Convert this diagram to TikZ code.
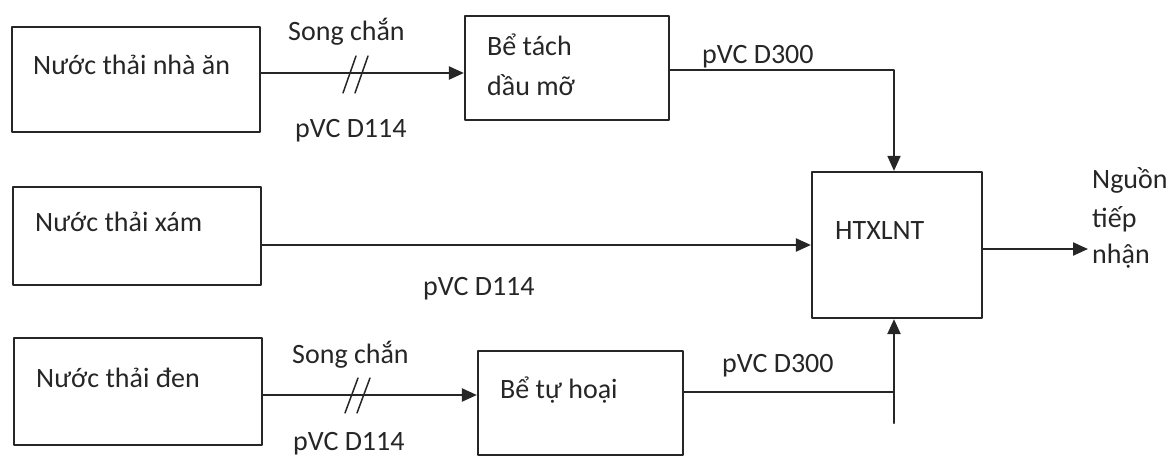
\documentclass[tikz,border=0pt]{standalone}
\usepackage{fontspec}
\setmainfont{Carlito}
\usetikzlibrary{arrows.meta,calc}
\definecolor{ink}{HTML}{262626}
\tikzset{
	hop/.style={draw=ink, line width=2.2pt, inner sep=0pt},
	chu/.style={text=ink, inner sep=0pt, anchor=base west},
	ong/.style={draw=ink, line width=2.2pt},
	mui/.style={-{Triangle[length=15pt,width=13pt]}},
}
\begin{document}
\begin{tikzpicture}[x=1pt,y=-1pt, font=\fontsize{28}{34}\selectfont, line join=round, line cap=round]
	\useasboundingbox (0,0) rectangle (1170,458);
	% cac be va nguon thai
	\node[hop, minimum width=248pt, minimum height=105pt] (an) at (136,79.5) {};
	\node[hop, minimum width=248pt, minimum height=98pt] (xam) at (137,236) {};
	\node[hop, minimum width=248pt, minimum height=107pt] (den) at (138,391.5) {};
	\node[hop, minimum width=204pt, minimum height=104pt] (tach) at (567,68) {};
	\node[hop, minimum width=205pt, minimum height=104pt] (tuhoai) at (580.5,403) {};
	\node[hop, minimum width=170pt, minimum height=146pt] (ht) at (897,245) {};
	% chu trong hop
	\node[chu] (t1) at (33,74) {Nước thải nhà ăn};
	\node[chu] (t2) at (35,231) {Nước thải xám};
	\node[chu] (t3) at (36,387) {Nước thải đen};
	\node[chu] (t4) at (487,55) {Bể tách};
	\node[chu] (t5) at (487,95) {dầu mỡ};
	\node[chu] (t6) at (500,398) {Bể tự hoại};
	\node[chu] (t7) at (835,239) {HTXLNT};
	% nhan ong
	\node[chu] (l1) at (288,40) {Song chắn};
	\node[chu] (l2) at (295,137) {pVC D114};
	\node[chu] (l3) at (292,363) {Song chắn};
	\node[chu] (l4) at (293,450) {pVC D114};
	\node[chu] (l5) at (423,295) {pVC D114};
	\node[chu] (l6) at (702,63) {pVC D300};
	\node[chu] (l7) at (722,372) {pVC D300};
	\node[chu] (n1) at (1092,188) {Nguồn};
	\node[chu] (n2) at (1092,227) {tiếp};
	\node[chu] (n3) at (1092,263) {nhận};
	% duong ong
	\def\ya{73} \def\yb{70} \def\yc{245} \def\yd{395} \def\ye{392} \def\xh{894}
	\draw[ong,mui] (an.east |- 0,\ya) -- (tach.west |- 0,\ya);
	\draw[ong,mui] (xam.east |- 0,\yc) -- (ht.west |- 0,\yc);
	\draw[ong,mui] (den.east |- 0,\yd) -- (tuhoai.west |- 0,\yd);
	\draw[ong,line width=1.8pt,mui] (tach.east |- 0,\yb) -| (ht.north -| \xh,0);
	\coordinate (chan) at (\xh,423);
	\draw[ong,line width=1.8pt] (tuhoai.east |- 0,\ye) -- (chan |- 0,\ye);
	\draw[ong,mui] (chan) -- (ht.south -| chan);
	\coordinate (ra) at (1088,249);
	\draw[ong,mui] (ht.east |- ra) -- (ra);
	% song chan
	\foreach \dx in {0,12}{
		\draw[ong,line width=1.5pt] (343+\dx,93) -- (356+\dx,56);
		\draw[ong,line width=1.5pt] (345+\dx,413) -- (358+\dx,378);
	}
\end{tikzpicture}
\end{document}
